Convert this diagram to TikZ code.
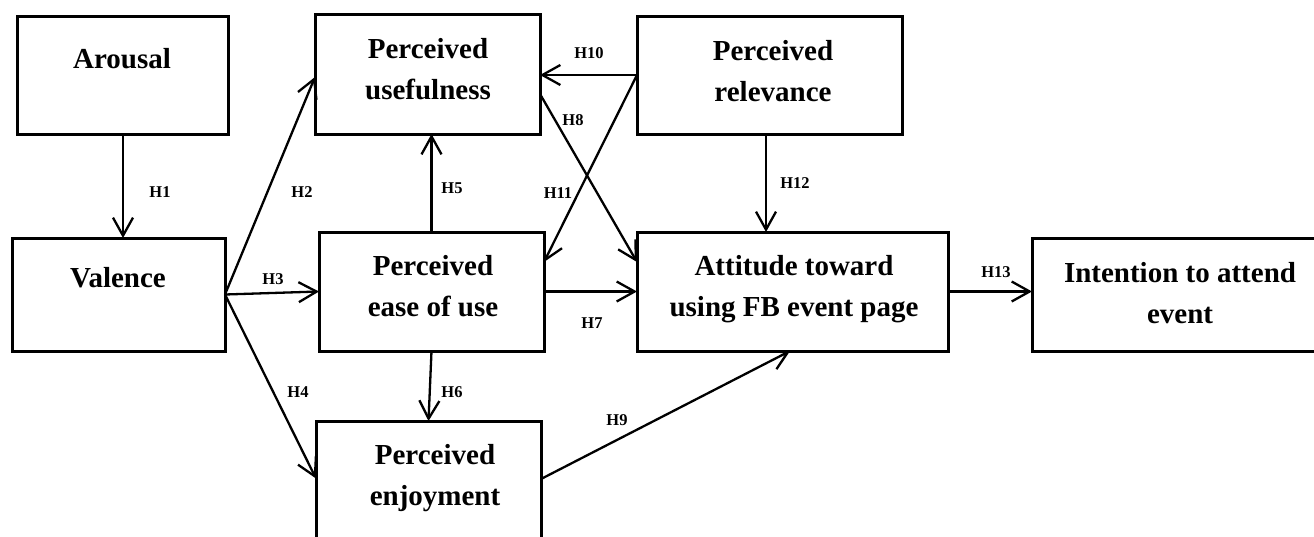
\documentclass[tikz,border=0pt]{standalone}
\usepackage{fontspec}
\setmainfont{Liberation Serif}
\usetikzlibrary{arrows.meta,calc}
\begin{document}
\begin{tikzpicture}[x=1pt,y=-1pt,
  box/.style={draw,line width=3pt,rectangle,outer sep=0pt,inner sep=0pt},
  txt/.style={font=\bfseries\fontsize{29}{41}\selectfont,align=center,anchor=base,inner sep=0pt},
  lbl/.style={font=\bfseries\fontsize{16.5}{18}\selectfont,inner sep=0pt},
  arr/.style={line width=2.3pt,-{Straight Barb[length=18pt,width=20pt]}}]
\useasboundingbox (0,0) rectangle (1314,536);
\clip (0,0) rectangle (1314,536);
% boxes
\node[box,minimum width=211pt,minimum height=118pt] (arousal) at (122.5,75) {};
\node[box,minimum width=225pt,minimum height=120pt] (useful) at (427.5,74) {};
\node[box,minimum width=265pt,minimum height=118pt] (relev) at (769.5,75) {};
\node[box,minimum width=213pt,minimum height=113pt] (valence) at (118.5,294.5) {};
\node[box,minimum width=225pt,minimum height=119pt] (ease) at (431.5,291.5) {};
\node[box,minimum width=311pt,minimum height=119pt] (attitude) at (792.5,291.5) {};
\node[box,minimum width=298pt,minimum height=113pt] (intent) at (1181,294.5) {};
\node[box,minimum width=225pt,minimum height=139pt] (enjoy) at (428.5,490.5) {};
% texts (anchor = baseline of the last line)
\node[txt] (tarousal) at (122,68) {Arousal};
\node[txt] (tuseful) at (428,99) {Perceived\\usefulness};
\node[txt] (trelev) at (773,101) {Perceived\\relevance};
\node[txt] (tvalence) at (118,287) {Valence};
\node[txt] (tease) at (433,316) {Perceived\\ease of use};
\node[txt] (tattitude) at (794,316) {Attitude toward\\using FB event page};
\node[txt] (tintent) at (1180,323) {Intention to attend\\event};
\node[txt] (tenjoy) at (435,505) {Perceived\\enjoyment};
% connectors
\draw[arr] ($(arousal.south)+(0.5,0)$) -- ($(arousal.south |- valence.north)+(0.5,0)$);
\draw[arr] (valence.east) -- ($(useful.west)+(0,3)$);
\draw[arr] (valence.east) -- (ease.west);
\draw[arr] (valence.east) -- ($(enjoy.west)+(0,-12)$);
\draw[arr] (ease.north) -- (ease.north |- useful.south);
\draw[arr] (ease.south) -- (enjoy.north);
\draw[arr] (ease.east) -- (attitude.west);
\draw[arr] ($(useful.east)+(0,20)$) -- ($(attitude.west)+(0,-29.5)$);
\draw[arr] ($(enjoy.east)+(0,-11.5)$) -- ($(attitude.south)+(-2.5,0)$);
\draw[arr] (relev.west) -- (relev.west -| useful.east);
\draw[arr] (relev.west) -- ($(ease.east)+(0,-29.5)$);
\draw[arr] ($(relev.south)+(-3.5,0)$) -- ($(relev.south |- attitude.north)+(-3.5,0)$);
\draw[arr] (attitude.east) -- (attitude.east -| intent.west);
% labels
\node[lbl] (l1) at (160,192) {H1};
\node[lbl] (l2) at (302,192) {H2};
\node[lbl] (l3) at (273,279) {H3};
\node[lbl] (l4) at (298,392) {H4};
\node[lbl] (l5) at (452,188) {H5};
\node[lbl] (l6) at (452,392) {H6};
\node[lbl] (l7) at (592,323) {H7};
\node[lbl] (l8) at (573,120) {H8};
\node[lbl] (l9) at (617,420) {H9};
\node[lbl] (l10) at (589,53) {H10};
\node[lbl] (l11) at (558,193) {H11};
\node[lbl] (l12) at (795,183) {H12};
\node[lbl] (l13) at (996,272) {H13};
\end{tikzpicture}
\end{document}
